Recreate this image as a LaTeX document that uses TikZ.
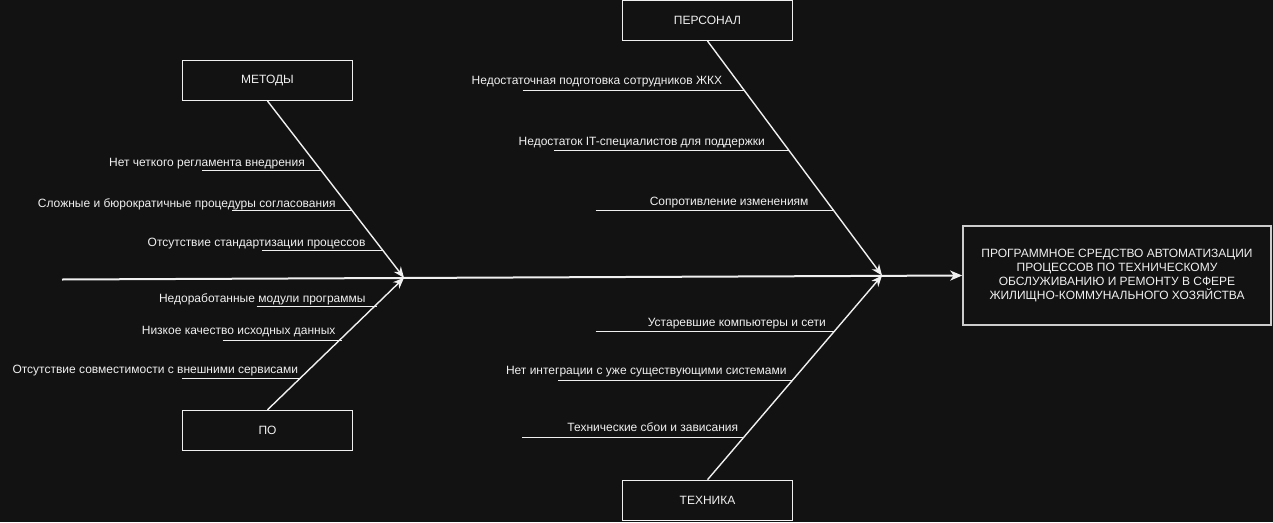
\documentclass[tikz,border=0pt]{standalone}
\usepackage{fontspec}
\setmainfont{Liberation Sans}
\usetikzlibrary{arrows.meta}

\definecolor{bgdark}{RGB}{18,18,18}
\definecolor{inkwhite}{RGB}{240,240,240}

\tikzset{
	category/.style={draw=inkwhite, line width=1pt, minimum width=170pt, minimum height=40pt, inner sep=0pt, text=inkwhite, font=\fontsize{12}{14}\selectfont},
	effect/.style={draw=inkwhite!85!black, line width=1.6pt, minimum width=308pt, minimum height=99pt, inner sep=0pt, align=center, text=inkwhite, font=\fontsize{12}{14.3}\selectfont},
	cause/.style={anchor=base east, inner sep=0pt, text=inkwhite, font=\fontsize{12}{14}\selectfont},
	bone/.style={draw=inkwhite, line width=1.4pt, -{Stealth[length=11pt, width=9pt, inset=3.5pt]}},
	spine/.style={draw=inkwhite, line width=2pt, -{Stealth[length=12pt, width=10pt, inset=3.5pt]}},
	twig/.style={draw=inkwhite, line width=1pt}
}

\begin{document}
\begin{tikzpicture}[x=1pt, y=-1pt]
	\fill[bgdark] (0,0) rectangle (1273,522);
	\useasboundingbox (0,0) rectangle (1273,522);

	\node[category] (metody) at (267.5,80.5) {МЕТОДЫ};
	\node[category] (po) at (267.5,430.3) {ПО};
	\node[category] (personal) at (707.5,20.5) {ПЕРСОНАЛ};
	\node[category] (tehnika) at (707.5,500.2) {ТЕХНИКА};
	\node[effect] (effect) at (1117,275.5) {ПРОГРАММНОЕ СРЕДСТВО АВТОМАТИЗАЦИИ\\ПРОЦЕССОВ ПО ТЕХНИЧЕСКОМУ\\ОБСЛУЖИВАНИЮ И РЕМОНТУ В СФЕРЕ\\ЖИЛИЩНО-КОММУНАЛЬНОГО ХОЗЯЙСТВА};

	\coordinate (tail) at (62,279.5);
	\coordinate (jointL) at (404,277.8);
	\coordinate (jointR) at (882,275.5);

	\draw[spine] (tail) -- (effect.west);

	\draw[bone] (metody.south) -- (jointL);
	\draw[bone] (po.north) -- (jointL);
	\draw[bone] (personal.south) -- (jointR);
	\draw[bone] (tehnika.north) -- (jointR);

	% methods
	\draw[twig] (202,170.3) -- (321.5,170.3);
	\draw[twig] (232,210.3) -- (352,210.3);
	\draw[twig] (262,250.3) -- (382.5,250.3);
	\node[cause] (m1) at (305,166.5) {Нет четкого регламента внедрения};
	\node[cause] (m2) at (335.7,207.5) {Сложные и бюрократичные процедуры согласования};
	\node[cause] (m3) at (365.7,246.8) {Отсутствие стандартизации процессов};

	% software
	\draw[twig] (256.7,306) -- (376.5,306);
	\draw[twig] (222.7,340.3) -- (341.5,340.3);
	\draw[twig] (182,378) -- (300.5,378);
	\node[cause] (p1) at (365.7,302.2) {Недоработанные модули программы};
	\node[cause] (p2) at (335.7,334.5) {Низкое качество исходных данных};
	\node[cause] (p3) at (298.3,373.5) {Отсутствие совместимости с внешними сервисами};

	% staff
	\draw[twig] (522.7,90) -- (744,90);
	\draw[twig] (554.3,150.3) -- (789,150.3);
	\draw[twig] (595.7,210.3) -- (833.5,210.3);
	\node[cause] (r1) at (722.3,84.5) {Недостаточная подготовка сотрудников ЖКХ};
	\node[cause] (r2) at (765,145.5) {Недостаток IT-специалистов для поддержки};
	\node[cause] (r3) at (808.7,205.5) {Сопротивление изменениям};

	% hardware
	\draw[twig] (595.7,331.3) -- (834.3,331.3);
	\draw[twig] (558.3,380.3) -- (792.5,380.3);
	\draw[twig] (522.3,437) -- (744.2,437);
	\node[cause] (t1) at (826,326.2) {Устаревшие компьютеры и сети};
	\node[cause] (t2) at (786.7,374.5) {Нет интеграции с уже существующими системами};
	\node[cause] (t3) at (738.3,431.2) {Технические сбои и зависания};
\end{tikzpicture}
\end{document}
